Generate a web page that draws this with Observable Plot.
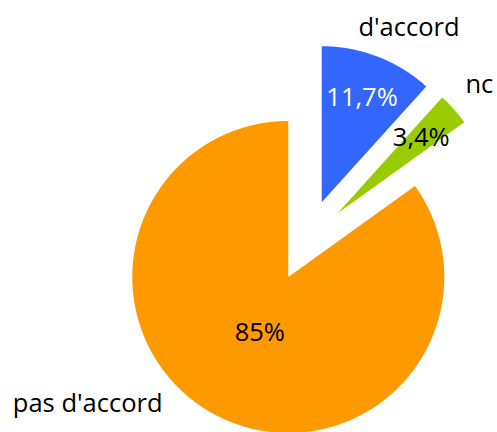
<!DOCTYPE html>
<html><head><meta charset="utf-8">
<script src="https://cdn.jsdelivr.net/npm/d3@7"></script>
<script src="https://cdn.jsdelivr.net/npm/@observablehq/plot@0.6"></script>
<style>body{margin:0;background:#fff}#chart{width:497px;height:432px;overflow:hidden}</style>
</head><body><div id="chart"></div>
<script>
// ---- data ----
const labels = ["d'accord", "nc", "pas d'accord"];
const values = [11.7, 3.4, 85];
const valueText = ["11,7%", "3,4%", "85%"];
const colors = ["#3366ff", "#99cc00", "#ff9900"];

// ---- layout (style) ----
const W = 497, H = 432;
const R = 156;               // pie radius in px
const CX = 306.5, CY = 240;  // pie centre in px
const EXPLODE = 41 / R;      // explode offset (radius units)
const FS = 25.5;
const FONT = "Open Sans";

const ctx = document.createElement("canvas").getContext("2d");
ctx.font = `${FS}px "${FONT}"`;
const textWidth = s => ctx.measureText(s).width;

const total = d3.sum(values);
const arcs = d3.pie().sort(null).value(d => d.value)(
  labels.map((label, i) => ({label, value: values[i], i}))
);

// slice outlines in radius units (y up)
const slicePts = [];
for (const a of arcs) {
  const mid = (a.startAngle + a.endAngle) / 2;
  const ox = EXPLODE * Math.sin(mid), oy = EXPLODE * Math.cos(mid);
  const label = a.data.label;
  slicePts.push({label, x: ox, y: oy});
  const n = Math.max(4, Math.ceil((a.endAngle - a.startAngle) / 0.005));
  for (let k = 0; k <= n; k++) {
    const t = a.startAngle + (a.endAngle - a.startAngle) * k / n;
    slicePts.push({label, x: ox + Math.sin(t), y: oy + Math.cos(t)});
  }
}

// percentage labels inside slices
const pct = arcs.map(a => {
  const mid = (a.startAngle + a.endAngle) / 2;
  const f = a.data.value / total > 0.5 ? 0.40 : 0.72;
  return {text: valueText[a.data.i], light: a.data.i === 0,
          x: (EXPLODE + f) * Math.sin(mid), y: (EXPLODE + f) * Math.cos(mid)};
});

// category labels outside slices: continuous horizontal alignment, kept inside canvas
const outer = arcs.map(a => {
  const mid = (a.startAngle + a.endAngle) / 2;
  const ax = EXPLODE * Math.sin(mid), ay = EXPLODE * Math.cos(mid);
  const rr = 1.1;
  let x = ax + rr * Math.sin(mid), y = ay + rr * Math.cos(mid);
  let ang = mid;
  const la = Math.cos(mid) > 0.35 ? "bottom" : Math.cos(mid) < -0.35 ? "top" : "middle";
  if (la === "top") {
    const maxPy = H - 1.52 * FS;
    const py = CY - y * R;
    if (py > maxPy) {
      y = (CY - maxPy) / R;
      const dy = y - ay;
      const dx = Math.sqrt(Math.max(0, rr * rr - dy * dy));
      x = ax + Math.sign(Math.sin(mid)) * dx;
      ang = Math.atan2(x - ax, y - ay);
    }
  }
  const frac = Math.max(0, Math.min(1, 0.5 - 0.5 * Math.sin(ang) / Math.SQRT1_2));
  x -= frac * textWidth(a.data.label) / R;
  const dy = la === "bottom" ? -0.24 * FS : 0;
  return {text: a.data.label, x, y, la, dy};
});

const chart = Plot.plot({
  width: W, height: H,
  margin: 0,
  x: {domain: [-CX / R, (W - CX) / R], axis: null},
  y: {domain: [-(H - CY) / R, CY / R], axis: null},
  color: {domain: labels, range: colors},
  style: {fontFamily: FONT, background: "white"},
  marks: [
    Plot.line(slicePts, {x: "x", y: "y", z: "label", fill: "label", stroke: "none", curve: "linear"}),
    Plot.text(pct.filter(d => d.light), {x: "x", y: "y", text: "text", fill: "white", fontSize: FS, fontFamily: FONT}),
    Plot.text(pct.filter(d => !d.light), {x: "x", y: "y", text: "text", fill: "black", fontSize: FS, fontFamily: FONT}),
    ...outer.map(d => Plot.text([d], {x: "x", y: "y", text: "text", fill: "black",
      textAnchor: "start", lineAnchor: d.la, dy: d.dy, fontSize: FS, fontFamily: FONT}))
  ]
});
document.getElementById("chart").appendChild(chart);
</script>
</body></html>
